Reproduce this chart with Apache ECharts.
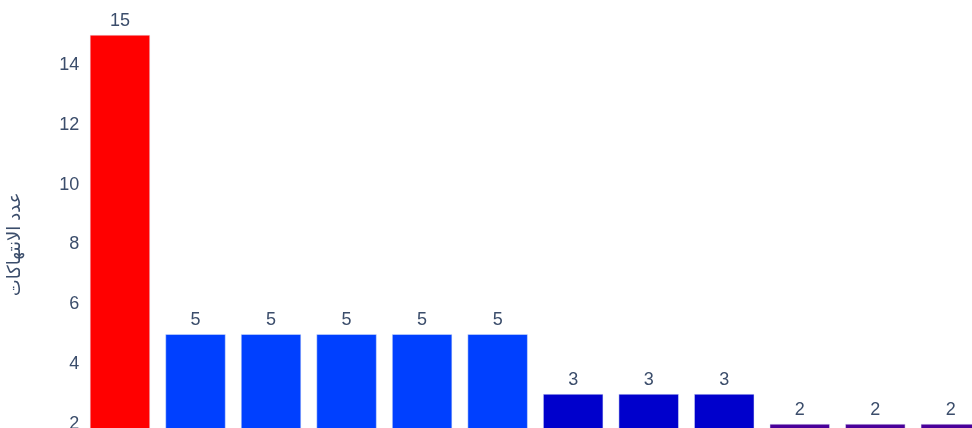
<!DOCTYPE html>
<html>
<head>
<meta charset="utf-8">
<script src="https://cdn.jsdelivr.net/npm/echarts@6/dist/echarts.min.js"></script>
<style>
  html, body { margin: 0; padding: 0; background: #ffffff; }
  #chart { width: 972px; height: 428px; }
</style>
</head>
<body>
<div id="chart"></div>
<script>
// Violation counts per category
const categories = ['الفئة 1', 'الفئة 2', 'الفئة 3', 'الفئة 4', 'الفئة 5', 'الفئة 6',
                    'الفئة 7', 'الفئة 8', 'الفئة 9', 'الفئة 10', 'الفئة 11', 'الفئة 12'];
const counts = [15, 5, 5, 5, 5, 5, 3, 3, 3, 2, 2, 2];
const yAxisTitle = 'عدد الانتهاكات';

// Bar colour depends on the count
function barColor(v) {
  if (v >= 10) return '#ff0000';
  if (v >= 5) return '#0040ff';
  if (v >= 3) return '#0000cc';
  return '#4a0099';
}

const textColor = '#3b4d6b';
const fontFamily = '"Liberation Sans", Arial, "DejaVu Sans", sans-serif';

const chart = echarts.init(document.getElementById('chart'), null, { renderer: 'canvas' });
chart.setOption({
  backgroundColor: '#ffffff',
  animation: false,
  grid: {
    left: 82.2, right: -16.6, top: 5, bottom: -55.8,
    containLabel: false,
    outerBoundsMode: 'none'
  },
  xAxis: {
    type: 'category',
    data: categories,
    axisLine: { show: false },
    axisTick: { show: false },
    axisLabel: { show: false }
  },
  yAxis: {
    type: 'value',
    min: 0,
    max: 16,
    interval: 2,
    name: yAxisTitle,
    nameLocation: 'middle',
    nameGap: 58,
    nameTextStyle: { color: textColor, fontSize: 18, fontFamily: fontFamily },
    axisLine: { show: false },
    axisTick: { show: false },
    splitLine: { show: false },
    axisLabel: {
      showMaxLabel: false,
      color: textColor,
      fontSize: 18,
      fontFamily: fontFamily,
      margin: 3
    }
  },
  series: [{
    type: 'bar',
    data: counts,
    barCategoryGap: '20.5%',
    itemStyle: {
      color: (p) => barColor(p.value),
      borderColor: '#e5ecf6',
      borderWidth: 0.5
    },
    label: {
      show: true,
      position: 'top',
      distance: 5,
      color: textColor,
      fontSize: 18,
      fontFamily: fontFamily
    }
  }]
});
</script>
</body>
</html>
